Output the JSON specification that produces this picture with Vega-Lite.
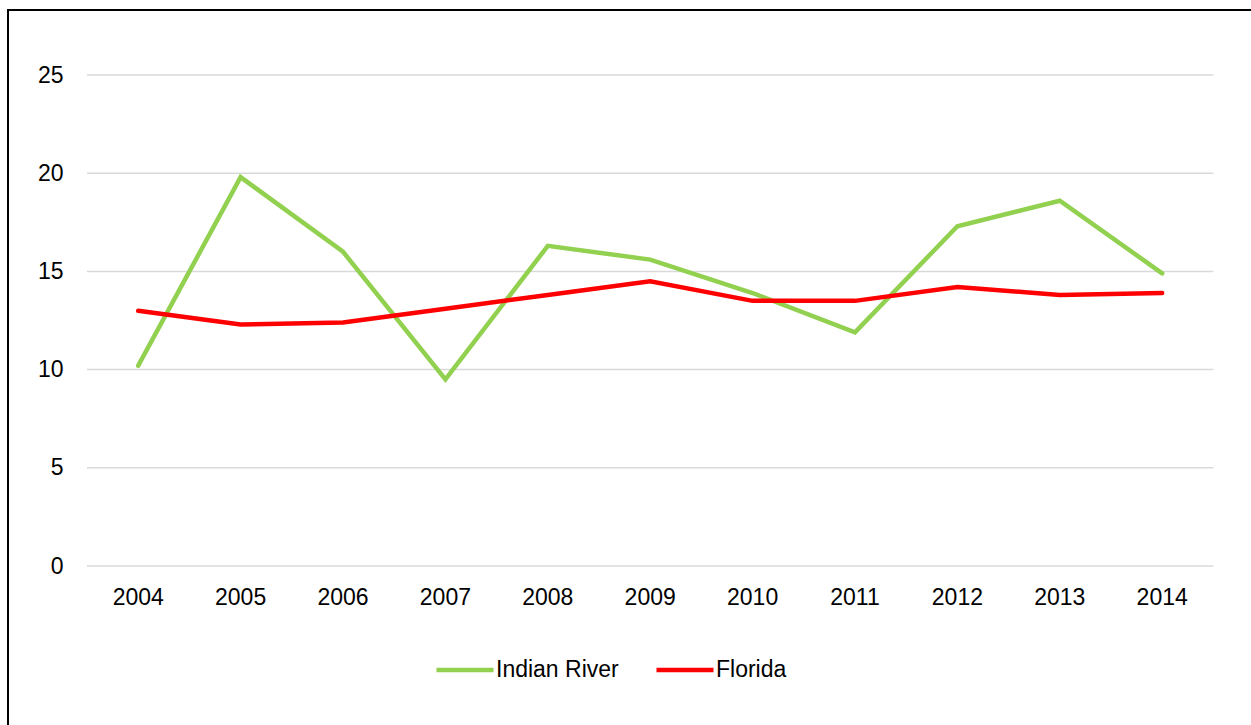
{
  "$schema": "https://vega.github.io/schema/vega-lite/v6.json",
  "width": 1243,
  "height": 715,
  "autosize": {"type": "none"},
  "padding": {"left": 8, "top": 10, "right": 0, "bottom": 0},
  "background": "white",
  "config": {
    "view": {"stroke": "#000000", "strokeWidth": 2, "strokeDash": [1243, 1958, 715]},
    "font": "Liberation Sans",
    "axis": {"labelFont": "Liberation Sans"},
    "legend": {"labelFont": "Liberation Sans"}
  },
  "datasets": {
    "series": [
      {"year": "2004", "region": "Indian River", "value": 10.2},
      {"year": "2005", "region": "Indian River", "value": 19.8},
      {"year": "2006", "region": "Indian River", "value": 16.0},
      {"year": "2007", "region": "Indian River", "value": 9.5},
      {"year": "2008", "region": "Indian River", "value": 16.3},
      {"year": "2009", "region": "Indian River", "value": 15.6},
      {"year": "2010", "region": "Indian River", "value": 13.9},
      {"year": "2011", "region": "Indian River", "value": 11.9},
      {"year": "2012", "region": "Indian River", "value": 17.3},
      {"year": "2013", "region": "Indian River", "value": 18.6},
      {"year": "2014", "region": "Indian River", "value": 14.9},
      {"year": "2004", "region": "Florida", "value": 13.0},
      {"year": "2005", "region": "Florida", "value": 12.3},
      {"year": "2006", "region": "Florida", "value": 12.4},
      {"year": "2007", "region": "Florida", "value": 13.1},
      {"year": "2008", "region": "Florida", "value": 13.8},
      {"year": "2009", "region": "Florida", "value": 14.5},
      {"year": "2010", "region": "Florida", "value": 13.5},
      {"year": "2011", "region": "Florida", "value": 13.5},
      {"year": "2012", "region": "Florida", "value": 14.2},
      {"year": "2013", "region": "Florida", "value": 13.8},
      {"year": "2014", "region": "Florida", "value": 13.9}
    ],
    "grid": [{"v": 0}, {"v": 5}, {"v": 10}, {"v": 15}, {"v": 20}, {"v": 25}]
  },
  "layer": [
    {
      "data": {"name": "grid"},
      "mark": {"type": "rule", "color": "#d9d9d9", "strokeWidth": 1.5},
      "encoding": {
        "x": {"datum": "2004", "type": "ordinal", "bandPosition": 0},
        "x2": {"datum": "2014", "bandPosition": 1},
        "y": {"field": "v", "type": "quantitative"}
      }
    },
    {
      "data": {"name": "series"},
      "mark": {"type": "line", "strokeWidth": 4.5, "strokeCap": "round"},
      "encoding": {
        "x": {
          "field": "year",
          "type": "ordinal",
          "bandPosition": 0.5,
          "scale": {
            "type": "band",
            "domain": ["2004", "2005", "2006", "2007", "2008", "2009", "2010", "2011", "2012", "2013", "2014"],
            "paddingInner": 0,
            "paddingOuter": 0.5695,
            "align": 0.6775
          },
          "axis": {
            "title": null,
            "domain": false,
            "ticks": false,
            "tickSize": 0,
            "grid": false,
            "bandPosition": 0.5,
            "labelAlign": "center",
            "labelAngle": 0,
            "labelFontSize": 23,
            "labelColor": "#000000",
            "labelPadding": 31,
            "offset": -159
          }
        },
        "y": {
          "field": "value",
          "type": "quantitative",
          "scale": {"domain": [-8.0957, 28.3096], "nice": false, "zero": false},
          "axis": {
            "title": null,
            "values": [0, 5, 10, 15, 20, 25],
            "domain": false,
            "ticks": false,
            "tickSize": 0,
            "grid": false,
            "labelFontSize": 23,
            "labelColor": "#000000",
            "labelPadding": 24,
            "offset": -79
          }
        },
        "color": {
          "field": "region",
          "type": "nominal",
          "scale": {"domain": ["Indian River", "Florida"], "range": ["#92d050", "#ff0000"]},
          "legend": {
            "title": null,
            "orient": "none",
            "legendX": 426,
            "legendY": 629,
            "direction": "horizontal",
            "symbolType": "stroke",
            "symbolSize": 3250,
            "symbolStrokeWidth": 4.5,
            "labelFontSize": 23,
            "labelColor": "#000000",
            "labelOffset": 0,
            "columnPadding": 28,
            "padding": 0
          }
        }
      }
    }
  ]
}
